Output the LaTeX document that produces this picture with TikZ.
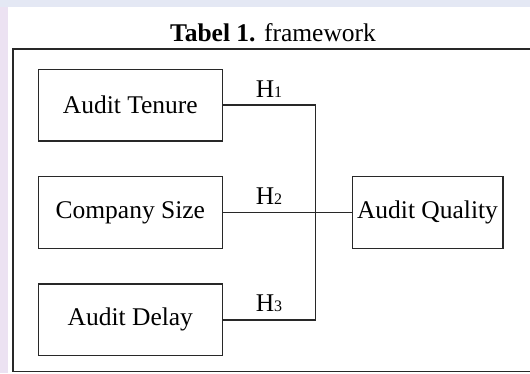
\documentclass[tikz,border=0pt]{standalone}
\usepackage{fontspec}
\setmainfont{Liberation Serif}
\definecolor{bgpink}{RGB}{236,226,242}
\definecolor{bgblue}{RGB}{228,232,244}
\definecolor{linegray}{RGB}{40,40,40}
\tikzset{
  varbox/.style={draw=linegray, line width=1.6pt, minimum height=71.7pt, inner sep=0pt,
    font=\fontsize{25.5}{30}\selectfont},
  conn/.style={draw=linegray, line width=1.6pt},
  hlabel/.style={anchor=base, inner sep=0pt, font=\fontsize{25.5}{30}\selectfont}
}
\newcommand{\hnum}[1]{{\fontsize{16}{16}\selectfont #1}}
\begin{document}
\begin{tikzpicture}[x=1pt,y=-1pt]
\useasboundingbox (0,0) rectangle (530,373);
\fill[bgpink] (0,0) rectangle (530,373);
\fill[bgblue] (0,0) rectangle (530,7);
\fill[white] (8,7) rectangle (530,373);
\draw[linegray, line width=1.6pt] (535,49) -- (13,49) -- (13,371.5) -- (535,371.5);
\node[anchor=base, inner sep=0pt, font=\fontsize{25.5}{30}\selectfont] (title) at (273,41) {\textbf{Tabel 1.} framework};
\node[varbox, minimum width=184pt] (ten) at (130.3,105.2) {Audit Tenure};
\node[varbox, minimum width=184pt] (cs) at (130.3,212.5) {Company Size};
\node[varbox, minimum width=184pt] (del) at (130.3,319.7) {Audit Delay};
\node[varbox, minimum width=150.4pt] (aq) at (427.5,212.5) {Audit Quality};
\coordinate (jx) at (315.3,212.5);
\draw[conn] (ten.east) -| (jx) |- (del.east);
\draw[conn] (cs.east) -- (aq.west);
\node[hlabel] (h1) at (269,97) {H\hnum{1}};
\node[hlabel] (h2) at (269,204) {H\hnum{2}};
\node[hlabel] (h3) at (269,311) {H\hnum{3}};
\end{tikzpicture}
\end{document}
